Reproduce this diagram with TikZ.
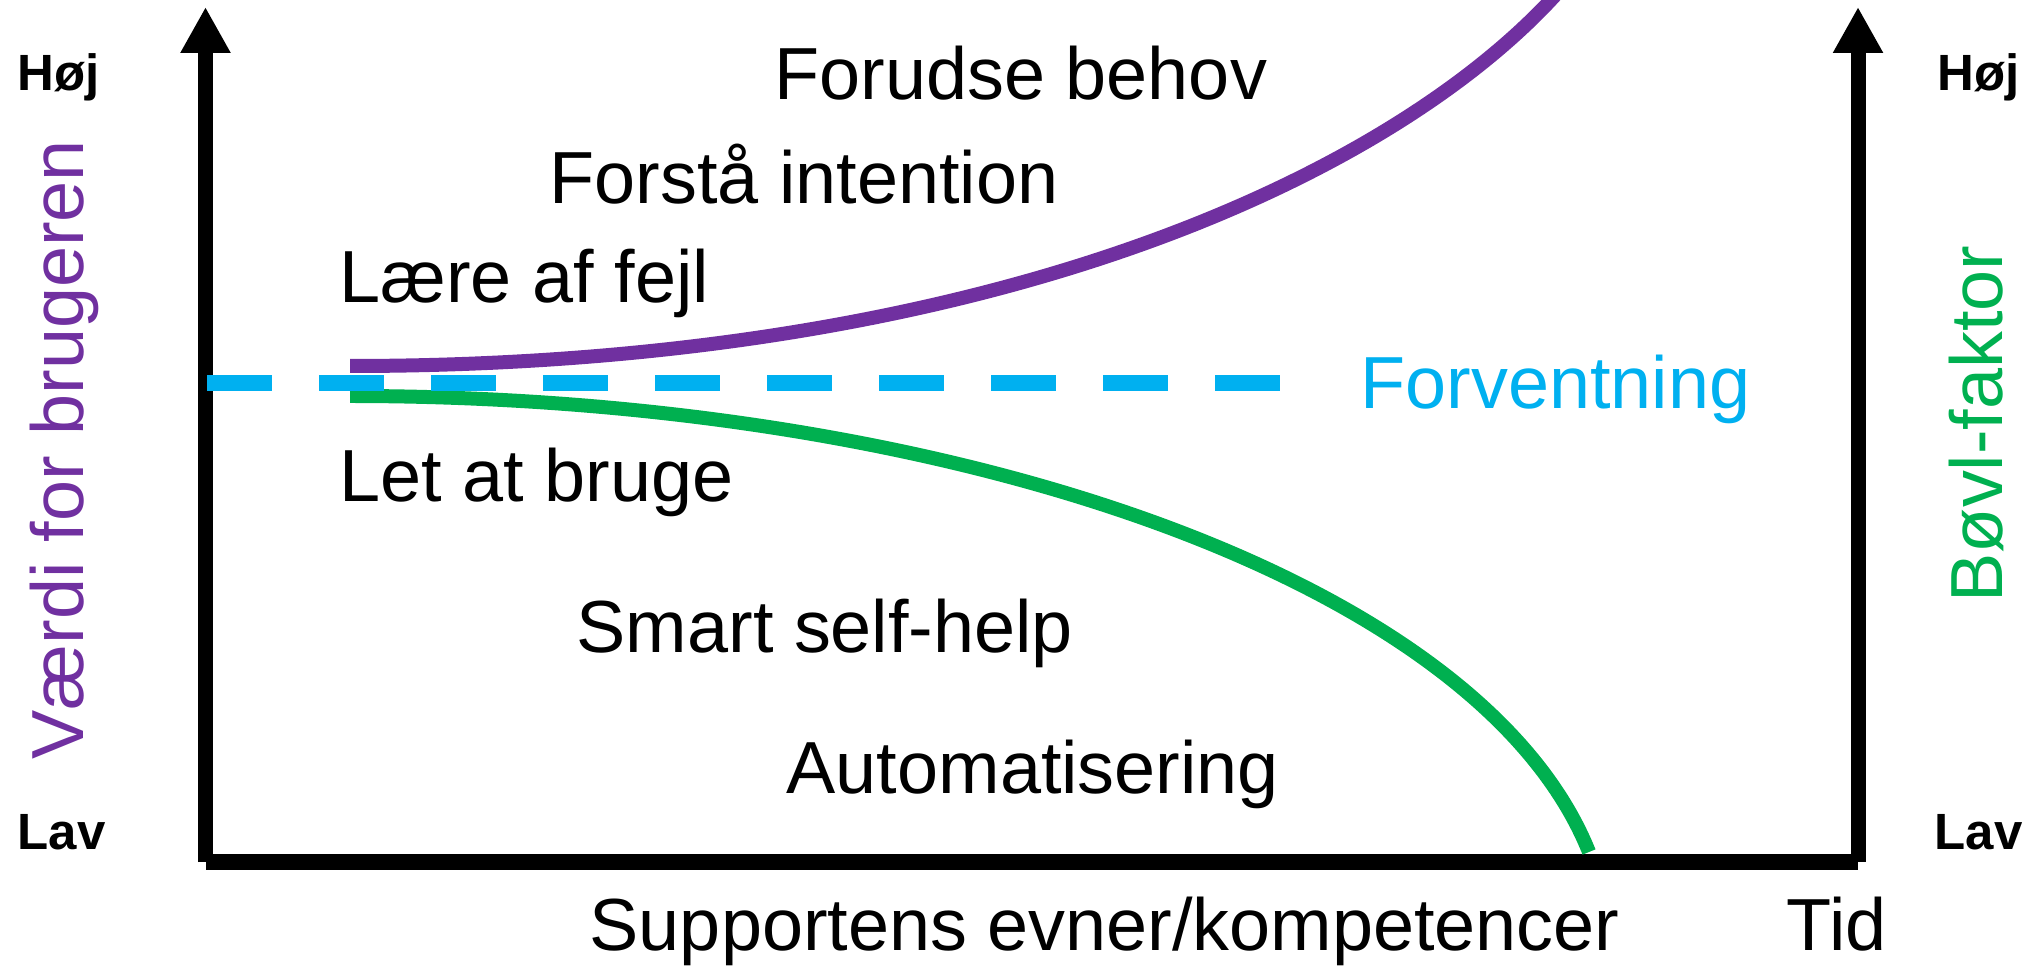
\documentclass[tikz,border=0pt]{standalone}
\usepackage{fontspec}
\setmainfont{Liberation Sans}
\usetikzlibrary{arrows.meta}
\definecolor{vaerdi}{HTML}{7030A0}
\definecolor{boevl}{HTML}{00B050}
\definecolor{forvent}{HTML}{00B0F0}

\begin{document}
\begin{tikzpicture}[>={Triangle[width=0.47cm,length=0.46cm]},x=1.0cm,y=1.0cm,
  txt/.style={inner sep=0pt,anchor=base west,font=\fontsize{21}{25}\selectfont},
  lvl/.style={inner sep=0pt,anchor=base west,font=\fontsize{14.5}{17}\selectfont\bfseries},
  curve/.style={line width=0.14cm}]
\useasboundingbox (0,0) rectangle (20.39,9.67);
% akser
\coordinate (o) at (2.055,1.05);
\coordinate (ytop) at (2.055,9.60);
\coordinate (r) at (18.58,1.05);
\coordinate (rtop) at (18.58,9.60);
\draw[line width=0.16cm] (o) -- (r);
\draw[line width=0.15cm,->] (o) -- (ytop);
\draw[line width=0.15cm,->] (r) -- (rtop);
% kurver
\draw[curve,vaerdi] (3.50,6.01) .. controls (10.00,6.01) and (14.00,7.97) .. (15.60,9.77);
\draw[curve,boevl] (3.50,5.71) .. controls (9.50,5.71) and (14.80,3.87) .. (15.89,1.15);
% forventning
\coordinate (fstart) at (2.07,5.84);
\coordinate (fend) at (12.80,5.84);
\draw[line width=0.16cm,forvent,dash pattern=on 0.65cm off 0.47cm] (fstart) -- (fend);
\node[txt,forvent] (forv) at (13.60,5.58) {Forventning};
% tekster
\node[txt] (behov) at (7.74,8.67) {Forudse behov};
\node[txt] (intention) at (5.49,7.63) {Forstå intention};
\node[txt] (fejl) at (3.39,6.64) {Lære af fejl};
\node[txt] (bruge) at (3.39,4.65) {Let at bruge};
\node[txt] (selfhelp) at (5.76,3.15) {Smart self-help};
\node[txt] (auto) at (7.86,1.74) {Automatisering};
\node[txt] (evner) at (5.89,0.17) {Supportens evner/kompetencer};
\node[txt] (tid) at (17.86,0.17) {Tid};
\node[lvl] (hojL) at (0.17,8.76) {Høj};
\node[lvl] (hojR) at (19.37,8.76) {Høj};
\node[lvl] (lavL) at (0.17,1.18) {Lav};
\node[lvl] (lavR) at (19.34,1.18) {Lav};
\node[txt,vaerdi,rotate=90] (vaerdi) at (0.83,2.07) {Værdi for brugeren};
\node[txt,boevl,rotate=90] (boevl) at (20.02,3.64) {Bøvl-faktor};
\end{tikzpicture}
\end{document}
